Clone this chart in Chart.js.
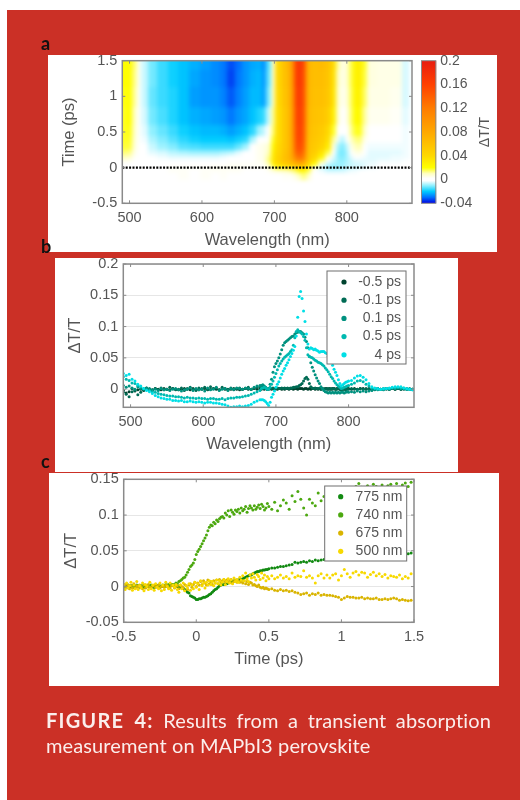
<!DOCTYPE html>
<html>
<head>
<meta charset="utf-8" />
<title>Figure 4</title>
<script src="https://cdn.jsdelivr.net/npm/chart.js"></script>
<style>
  html, body { margin: 0; padding: 0; background: #fff; }
  #page { position: absolute; left: 7px; top: 10px; width: 513px; height: 790px; background: #cb3026; }
  .panel { position: absolute; background: #fff; }
  canvas { position: absolute; filter: blur(0.45px); }
  .tag { position: absolute; font: bold 18px Lato, sans-serif; color: #111; z-index: 5; }
  .caption { position: absolute; left: 46px; width: 445px; font: 20px/25px Lato, sans-serif; color: #fbeeec; filter: blur(0.3px); font-variant-ligatures: none; letter-spacing: .12px; }
</style>
</head>
<body>
<div id="page"></div>
<div class="panel" style="left:48px;top:55px;width:449px;height:197px"></div>
<div class="panel" style="left:55px;top:258px;width:403px;height:214px"></div>
<div class="panel" style="left:49px;top:473px;width:450px;height:213px"></div>
<canvas id="heat" style="left:48px;top:55px"></canvas>
<canvas id="bar" style="left:421px;top:55px"></canvas>
<canvas id="spectra" style="left:55px;top:258px"></canvas>
<canvas id="kinetics" style="left:49px;top:473px"></canvas>
<div class="tag" style="left:41px;top:32px">a</div>
<div class="tag" style="left:41px;top:235px">b</div>
<div class="tag" style="left:41px;top:450px">c</div>
<div class="caption" style="top:708px;text-align:justify;text-align-last:justify"><b style="letter-spacing:1.2px">FIGURE 4:</b> Results from a transient absorption</div>
<div class="caption" style="top:733px">measurement on MAPbI3 perovskite</div>
<script>
// all dT/T values below are in units of 0.001

// panel a: heat map, one row per time
const heatWavelengths = [490,500,507,513,520,530,545,560,575,590,605,620,630,640,650,660,670,680,686,692,698,705,715,725,730,735,740,746,755,765,775,782,788,794,800,806,812,818,824,832,850,870,882,890];
const heatTimes = [-0.5,-0.25,-0.1,-0.05,0,0.05,0.1,0.15,0.2,0.3,0.4,0.5,0.7,1,1.25,1.5];
const heatRows = [
  [2,2,1,1,1,1,1,1,1,1,1,1,1,1,1,1,1,1,1,0,0,0,1,1,1,1,1,1,0,0,0,0,0,0,0,1,1,1,1,1,1,0,0,0],
  [2,1,1,1,1,1,1,1,2,1,2,1,2,1,2,1,1,1,1,1,1,1,1,1,2,2,2,1,0,0,-1,-1,-1,-1,0,0,0,0,0,0,1,1,0,0],
  [2,1,1,0,1,1,2,2,3,2,3,2,3,2,2,2,2,1,1,1,2,2,3,3,6,10,14,8,1,-1,-2,-2,-2,-2,-2,-1,-1,-1,-1,0,0,0,0,0],
  [1,1,1,1,1,2,2,3,3,2,3,3,3,3,3,2,2,2,2,3,5,7,9,12,16,22,24,16,2,-3,-5,-5,-5,-5,-4,-3,-3,-2,-2,-1,-1,-1,0,0],
  [1,1,1,1,1,1,2,3,3,3,3,4,4,4,4,3,3,3,3,6,14,22,30,36,42,46,42,28,8,-6,-10,-11,-10,-9,-7,-6,-5,-5,-4,-3,-2,-2,-1,-1],
  [2,2,1,0,1,1,1,1,2,2,2,2,2,3,3,3,3,3,4,10,26,40,52,62,72,76,70,46,20,4,-6,-8,-9,-9,-7,-6,-5,-5,-4,-3,-2,-2,-2,-1],
  [5,4,2,0,0,-1,-1,-1,0,0,-1,0,1,1,1,2,2,4,5,14,32,46,60,72,100,110,95,54,36,14,0,-6,-9,-10,-8,-6,-4,-4,-4,-4,-3,-3,-2,-2],
  [10,9,3,0,-1,-2,-3,-4,-4,-4,-4,-4,-3,-2,-1,1,2,4,5,12,30,44,60,78,120,130,115,56,42,24,6,-4,-10,-11,-8,-4,-1,0,-3,-4,-4,-3,-3,-2],
  [14,13,5,0,-1,-4,-5,-7,-8,-9,-9,-9,-8,-7,-4,-1,2,4,5,10,28,42,58,78,135,145,125,58,48,34,16,0,-10,-12,-8,-1,5,6,-1,-4,-4,-4,-3,-2],
  [17,17,7,0,-2,-6,-9,-11,-14,-15,-16,-16,-16,-16,-13,-9,0,4,5,8,22,40,56,78,145,155,134,60,52,44,30,6,-8,-11,-6,4,10,11,2,-3,-3,-3,-3,-2],
  [18,18,8,0,-3,-8,-11,-14,-17,-19,-20,-20,-20,-21,-19,-17,-8,-2,0,3,18,38,56,78,148,160,138,62,54,48,36,12,-3,-7,-2,8,13,14,5,-1,-2,-2,-3,-2],
  [18,19,9,0,-4,-10,-13,-16,-19,-21,-22,-22,-23,-25,-23,-21,-17,-9,-6,0,14,38,56,80,150,162,140,64,56,52,40,18,2,-2,2,12,18,19,9,1,-1,-1,-3,-2],
  [18,20,10,1,-5,-12,-15,-18,-21,-23,-24,-25,-26,-29,-26,-24,-21,-18,-16,-6,12,38,56,80,152,165,142,66,58,56,48,28,8,2,5,14,22,23,12,4,4,3,-4,-2],
  [19,20,12,2,-6,-13,-16,-18,-21,-25,-26,-26,-28,-32,-28,-25,-22,-22,-25,-11,9,40,58,82,156,168,145,68,60,60,54,34,9,4,7,15,25,27,15,5,5,4,-5,-2],
  [20,21,13,3,-6,-12,-16,-19,-21,-24,-26,-27,-29,-34,-29,-26,-23,-22,-26,-13,8,42,60,85,160,170,148,68,62,62,56,36,10,5,8,16,26,28,17,6,5,5,-5,-2],
  [20,22,14,3,-6,-12,-16,-19,-21,-23,-25,-27,-29,-33,-30,-26,-24,-23,-27,-14,8,42,62,88,160,172,150,70,62,64,58,38,12,5,8,16,26,29,18,6,5,5,-5,-2]
];
const zeroLineX = [490, 890];
const zeroLineY = [0, 0];
const wavelengthTicks = [500, 600, 700, 800];
const heatTimeTicks = [-0.5, 0, 0.5, 1, 1.5];

// colour bar
const barTicks = [-0.04, 0, 0.04, 0.08, 0.12, 0.16, 0.2];
const barLevels = [-0.04,-0.03,-0.02,-0.01,-0.002,0.002,0.01,0.02,0.04,0.08,0.12,0.16,0.2];
const barColors = ['#0000e0','#0070ff','#00ccff','#90f0ff','#ffffff','#ffffff','#ffffc0','#ffff00','#ffd800','#ffa800','#ff7c00','#ff4000','#e81c10'];

// panel b: spectra
const spectraWavelengths = [
  490,494,498,502,506,510,514,518,
  522,526,530,534,538,542,546,550,
  554,558,562,566,570,574,578,582,
  586,590,594,598,602,606,610,614,
  618,622,626,630,634,638,642,646,
  650,654,658,662,666,670,674,678,
  680,682,684,686,688,690,692,694,696,698,
  700,702,704,706,708,710,712,714,716,718,
  720,722,724,726,728,730,732,734,736,738,
  740,742,744,746,748,750,752,754,756,758,
  760,762,764,766,768,770,772,774,776,778,
  780,782,784,786,788,790,792,794,796,798,
  800,
  804,808,812,816,820,824,828,832,
  836,840,844,848,852,856,860,864,
  868,872,876,880,884,888
];
const spectrumM05 = [
  -2,-6,-4,1,-3,-1,0,-2,
  1,0,-1,1,0,-1,1,0,
  -1,1,0,-1,0,1,0,-1,
  1,0,-1,0,1,-1,0,1,
  0,-1,1,0,-1,0,1,0,
  -1,0,1,0,0,1,0,1,
  0,1,0,1,0,0,1,0,1,0,
  1,0,1,1,0,1,0,1,1,0,
  1,1,0,1,1,0,1,1,1,0,
  1,1,0,1,0,1,1,0,1,0,
  1,0,1,0,1,1,0,1,0,1,
  1,0,1,1,0,1,0,1,0,1,
  1,
  0,1,0,1,1,0,1,0,
  0,1,0,0,1,0,1,0,
  1,0,1,0,0,0
];
const spectrumM01 = [
  -5,-8,-12,-4,-2,-9,-5,-1,
  2,0,-2,1,-1,2,-1,0,
  3,1,-1,0,2,-2,1,3,
  0,-2,2,1,3,0,4,1,
  2,-1,3,1,0,2,-1,1,
  2,0,1,3,0,2,3,4,
  5,4,2,1,0,1,2,1,2,1,
  1,2,1,1,2,1,2,1,2,1,
  2,2,3,3,4,4,6,7,9,13,
  17,19,16,9,4,2,1,2,1,1,
  1,0,1,0,1,0,1,0,1,0,
  1,0,0,1,0,-1,0,0,-1,0,
  0,
  1,0,0,1,0,1,0,-1,
  0,1,0,1,0,0,1,0,
  1,0,0,1,0,0
];
const spectrumP01 = [
  6,3,5,2,0,4,1,0,
  2,1,-1,0,-2,1,-1,0,
  -2,0,1,-1,-3,-1,0,2,
  -2,1,-1,0,-3,2,-1,0,
  3,-2,0,1,-2,1,0,2,
  1,0,2,1,0,3,5,6,
  6,7,5,3,0,1,8,16,27,36,
  41,45,50,56,63,70,74,76,78,80,
  82,84,85,88,90,91,92,92,90,88,
  83,76,66,52,42,35,29,23,18,13,
  9,4,1,-2,-4,-5,-6,-5,-6,-5,
  -6,-5,-6,-5,-6,-5,-5,-6,-5,-4,
  -5,
  -4,-5,-3,-4,-3,-4,-3,-2,
  -1,-1,0,-1,1,0,2,1,
  2,1,1,0,1,0
];
const spectrumP05 = [
  20,16,14,10,9,6,4,1,
  -1,-2,-4,-5,-7,-8,-9,-10,
  -11,-11,-12,-12,-13,-14,-13,-14,
  -14,-15,-14,-15,-15,-16,-15,-15,
  -16,-16,-15,-17,-15,-14,-14,-13,
  -13,-12,-11,-10,-8,-6,-4,-2,
  1,2,3,2,0,0,3,8,13,19,
  25,31,37,41,45,48,51,53,55,57,
  60,63,70,82,92,95,92,90,88,84,
  78,66,55,52,51,50,48,46,45,43,
  42,41,39,37,34,31,28,24,20,17,
  13,10,7,5,3,1,2,3,4,5,
  6,
  8,10,13,14,12,8,5,2,
  1,0,0,0,1,1,2,2,
  3,2,2,0,0,-1
];
const spectrumP4 = [
  25,22,24,16,13,8,5,1,
  -2,-4,-7,-10,-12,-14,-15,-16,
  -16,-18,-18,-19,-18,-20,-20,-19,
  -20,-21,-20,-21,-22,-21,-21,-22,
  -22,-23,-24,-25,-27,-29,-28,-28,
  -27,-28,-27,-26,-24,-21,-19,-17,
  -17,-17,-18,-20,-23,-26,-21,-13,-8,-3,
  3,8,12,18,24,29,33,38,42,47,
  52,57,62,68,85,115,148,156,145,125,
  108,88,72,64,66,65,63,64,62,61,
  59,60,60,60,58,57,52,48,44,38,
  32,27,22,15,9,5,7,9,11,12,
  13,
  14,18,21,22,19,15,9,4,
  2,1,0,1,1,2,3,4,
  4,4,2,1,0,-1
];
const spectraLabels = ['-0.5 ps', '-0.1 ps', '0.1 ps', '0.5 ps', '4 ps'];
const spectraColors = ['#00432f', '#006b54', '#00917f', '#00b9b0', '#00dfe6'];
const spectraYTicks = [0, 0.05, 0.1, 0.15, 0.2];

// panel c: kinetics
const kineticsTimes = [
  -0.5,-0.49,-0.48,-0.47,-0.46,-0.45,-0.44,-0.43,-0.42,-0.41,-0.4,-0.39,
  -0.38,-0.37,-0.36,-0.35,-0.34,-0.33,-0.32,-0.31,-0.3,-0.29,-0.28,-0.27,
  -0.26,-0.25,-0.24,-0.23,-0.22,-0.21,-0.2,-0.19,-0.18,-0.17,-0.16,
  -0.15,-0.14,-0.13,-0.12,-0.11,-0.1,-0.09,-0.08,-0.07,-0.06,-0.05,
  -0.04,-0.03,-0.02,-0.01,0,0.01,0.02,0.03,0.04,0.05,0.06,
  0.07,0.08,0.09,0.1,0.11,0.12,0.13,0.14,0.15,0.16,0.17,
  0.18,0.19,0.2,0.21,0.22,0.23,0.24,0.25,0.26,0.27,0.28,
  0.29,0.3,0.31,0.32,0.33,0.34,0.35,0.36,0.37,0.38,0.39,
  0.4,0.41,0.42,0.43,0.44,0.45,0.46,0.47,0.48,0.49,0.5,
  0.52,0.54,0.56,0.58,0.6,0.62,0.64,0.66,0.68,0.7,
  0.72,0.74,0.76,0.78,0.8,0.82,0.84,0.86,0.88,0.9,
  0.92,0.94,0.96,0.98,1,1.02,1.04,1.06,1.08,1.1,
  1.12,1.14,1.16,1.18,1.2,1.22,1.24,1.26,1.28,1.3,
  1.32,1.34,1.36,1.38,1.4,1.42,1.44,1.46,1.48
];
const kinetics775 = [
  1,0,1,-1,1,0,1,-1,0,1,0,-1,
  1,0,-1,1,0,1,1,0,0,-1,1,0,
  1,0,0,1,1,0,1,1,1,2,2,
  1,1,0,0,-1,-1,-2,-4,-6,-8,-9,
  -13,-14,-15,-16,-18,-18,-17,-17,-16,-15,-15,
  -14,-13,-11,-10,-8,-6,-4,-3,-1,1,2,
  3,3,4,4,5,6,6,7,8,8,9,
  9,10,10,11,12,13,14,15,16,16,18,
  19,20,21,21,22,22,23,23,24,24,25,
  26,26,27,28,28,29,30,31,34,33,
  34,35,34,36,35,37,36,37,38,38,
  39,39,40,41,41,42,42,43,43,44,
  44,44,45,45,45,46,45,46,46,46,
  46,46,47,46,47,47,48,46,47
];
const kinetics740 = [
  1,-1,0,2,0,1,1,-1,0,2,1,0,
  0,1,2,-1,1,0,0,2,1,-1,0,1,
  2,1,0,2,1,3,2,3,1,3,3,
  3,5,4,7,8,10,12,13,16,20,24,
  28,30,33,38,45,49,52,56,60,64,68,
  72,78,83,86,85,90,88,93,91,95,97,
  98,96,103,100,106,98,107,104,101,107,105,
  108,103,110,106,108,112,104,109,113,110,107,
  113,108,111,114,109,115,112,107,110,116,112,
  108,118,106,113,121,117,108,127,119,133,
  122,110,100,122,117,113,131,120,126,128,
  130,128,135,131,134,138,133,136,137,140,
  144,139,136,141,137,143,140,138,142,136,
  141,143,137,144,139,142,145,140,146
];
const kinetics675 = [
  0,3,-1,2,-3,1,-2,4,-2,1,-1,2,
  0,-3,2,-2,1,3,-1,-2,1,2,-1,0,
  2,-2,0,1,-1,2,1,-2,-2,1,1,
  -2,0,1,-3,2,0,-2,3,1,-4,2,
  4,-1,3,6,0,5,2,7,3,8,5,
  2,9,4,7,3,8,5,9,4,10,6,
  8,10,7,9,6,8,10,5,7,9,6,
  8,6,7,5,8,4,7,3,6,5,2,
  3,1,0,2,-1,-2,-1,-3,-2,-3,-4,
  -3,-5,-6,-4,-6,-5,-7,-6,-8,-9,
  -11,-10,-9,-12,-10,-11,-9,-12,-11,-12,
  -12,-13,-14,-15,-18,-16,-14,-15,-15,-16,
  -16,-15,-17,-16,-17,-17,-16,-18,-18,-17,
  -18,-17,-16,-17,-19,-18,-19,-20,-19
];
const kinetics500 = [
  3,-4,5,-2,1,6,-5,2,-3,7,-4,1,
  -2,5,-6,3,0,-4,6,-3,2,-5,4,-1,
  -3,5,-6,2,-4,6,0,-3,5,-5,2,
  -1,3,-4,-8,2,-3,5,-6,1,-2,4,
  -5,2,-3,6,-1,4,-4,8,1,5,-2,
  6,2,8,3,7,1,5,9,4,8,2,
  6,10,3,7,11,5,9,4,12,7,10,
  6,13,9,15,8,19,11,7,16,12,18,
  13,9,17,14,10,19,12,16,8,14,11,
  15,11,13,16,12,14,11,19,13,15,
  14,22,13,15,12,5,15,18,12,16,
  12,16,18,9,15,24,18,13,19,21,
  16,20,19,13,17,20,15,18,14,17,
  12,15,14,13,16,11,14,12,18
];
const kineticsLabels = ['775 nm', '740 nm', '675 nm', '500 nm'];
const kineticsColors = ['#128a12', '#4ca810', '#d9b400', '#f7d900'];
const kineticsXTicks = [-0.5, 0, 0.5, 1, 1.5];
const kineticsYTicks = [-0.05, 0, 0.05, 0.1, 0.15];

Chart.defaults.font.family = '"Liberation Sans", Arial, sans-serif';
Chart.defaults.color = '#555';
Chart.defaults.animation = false;

const axisColor = '#8a8a8a';
const toPoints = (xs, ys) => xs.map((x, i) => ({ x, y: ys[i] / 1000 }));

function hexRgb(h) {
  return [1, 3, 5].map(i => parseInt(h.slice(i, i + 2), 16));
}

function heatColor(v) {
  if (v <= barLevels[0]) return barColors[0];
  for (let i = 1; i < barLevels.length; i++) {
    if (v <= barLevels[i]) {
      const f = (v - barLevels[i - 1]) / (barLevels[i] - barLevels[i - 1]);
      const a = hexRgb(barColors[i - 1]), b = hexRgb(barColors[i]);
      return 'rgb(' + a.map((c, k) => Math.round(c + (b[k] - c) * f)).join(',') + ')';
    }
  }
  return barColors[barColors.length - 1];
}

// cell edges sit halfway between neighbouring samples
function edges(vals) {
  const out = [vals[0]];
  for (let i = 1; i < vals.length; i++) out.push((vals[i - 1] + vals[i]) / 2);
  out.push(vals[vals.length - 1]);
  return out;
}

const heatPlugin = {
  id: 'heatCells',
  beforeDatasetsDraw(chart) {
    const { ctx, chartArea: a, scales: { x, y } } = chart;
    const off = document.createElement('canvas');
    off.width = chart.width;
    off.height = chart.height;
    const o = off.getContext('2d');
    const xe = edges(heatWavelengths).map(v => Math.round(x.getPixelForValue(v)));
    const ye = edges(heatTimes).map(v => Math.round(y.getPixelForValue(v)));
    xe[0] -= 8; xe[xe.length - 1] += 8;
    ye[0] += 8; ye[ye.length - 1] -= 8;
    heatRows.forEach((row, r) => {
      row.forEach((v, c) => {
        o.fillStyle = heatColor(v / 1000);
        o.fillRect(xe[c], ye[r + 1], xe[c + 1] - xe[c], ye[r] - ye[r + 1]);
      });
    });
    ctx.save();
    ctx.beginPath();
    ctx.rect(a.left, a.top, a.width, a.height);
    ctx.clip();
    ctx.filter = 'blur(2px)';
    ctx.drawImage(off, 0, 0);
    ctx.restore();
  }
};

// grey box with short inward ticks on all four sides
const boxPlugin = {
  id: 'matlabBox',
  afterDatasetsDraw(chart) {
    const { ctx, chartArea: a, scales } = chart;
    ctx.save();
    ctx.strokeStyle = axisColor;
    ctx.lineWidth = 1.5;
    ctx.strokeRect(a.left, a.top, a.width, a.height);
    ctx.lineWidth = 1;
    ctx.beginPath();
    scales.x.ticks.forEach(t => {
      const px = scales.x.getPixelForValue(t.value);
      ctx.moveTo(px, a.bottom); ctx.lineTo(px, a.bottom - 3);
      ctx.moveTo(px, a.top); ctx.lineTo(px, a.top + 3);
    });
    scales.y.ticks.forEach(t => {
      const py = scales.y.getPixelForValue(t.value);
      ctx.moveTo(a.left, py); ctx.lineTo(a.left + 3, py);
      ctx.moveTo(a.right, py); ctx.lineTo(a.right - 3, py);
    });
    ctx.stroke();
    ctx.restore();
  }
};

// legend box inside the axes, labels right aligned like the original
const legendPlugin = {
  id: 'boxLegend',
  afterDatasetsDraw(chart, args, opts) {
    const { ctx } = chart;
    const sets = chart.data.datasets.filter(d => d.label);
    ctx.save();
    ctx.fillStyle = '#fff';
    ctx.strokeStyle = '#6f6f6f';
    ctx.lineWidth = 1;
    ctx.fillRect(opts.x, opts.y, opts.w, opts.h);
    ctx.strokeRect(opts.x, opts.y, opts.w, opts.h);
    ctx.font = '14px "Liberation Sans"';
    ctx.textAlign = 'right';
    ctx.textBaseline = 'middle';
    sets.forEach((d, i) => {
      const py = opts.rowTop + i * opts.rowStep;
      ctx.fillStyle = d.backgroundColor;
      ctx.beginPath();
      ctx.arc(opts.dotX, py, 2.6, 0, Math.PI * 2);
      ctx.fill();
      ctx.fillStyle = '#555';
      ctx.fillText(d.label, opts.textX, py);
    });
    ctx.restore();
  }
};

function noLabelPadding(s) {
  s.paddingTop = 0;
  s.paddingBottom = 0;
  s.paddingLeft = 0;
  s.paddingRight = 0;
}

function plotOptions(o) {
  return {
    responsive: false,
    events: [],
    layout: { padding: { top: o.top, right: o.right, left: 0, bottom: 0 } },
    plugins: { legend: { display: false }, tooltip: { enabled: false }, boxLegend: o.legend || false },
    scales: {
      x: {
        type: 'linear', min: o.xMin, max: o.xMax,
        grid: { display: false, drawTicks: false },
        border: { display: false },
        afterBuildTicks: s => { s.ticks = o.xTicks.map(value => ({ value })); },
        afterFit: s => { s.height = o.bottom; noLabelPadding(s); },
        ticks: { autoSkip: false, maxRotation: 0, padding: 6, font: { size: 14.5 }, callback: v => String(v) },
        title: { display: true, text: o.xTitle, font: { size: 16.5 }, padding: { top: 0, bottom: o.xTitlePad } }
      },
      y: {
        min: o.yMin, max: o.yMax,
        grid: { display: o.grid, color: '#e6e6e6', lineWidth: 1, drawTicks: false },
        border: { display: false },
        afterBuildTicks: s => { s.ticks = o.yTicks.map(value => ({ value })); },
        afterFit: s => { s.width = o.left; noLabelPadding(s); },
        ticks: { autoSkip: false, padding: 5, font: { size: 14.5 }, callback: v => String(v) },
        title: { display: true, text: o.yTitle, font: { size: 16.5 }, padding: { top: o.yTitlePad, bottom: 0 } }
      }
    }
  };
}

function sizeCanvas(id, w, h) {
  const c = document.getElementById(id);
  c.width = w;
  c.height = h;
  return c;
}

new Chart(sizeCanvas('heat', 449, 197), {
  type: 'scatter',
  data: {
    datasets: [{
      data: toPoints(zeroLineX, zeroLineY),
      showLine: true, pointRadius: 0,
      borderColor: '#000', borderWidth: 2.2, borderDash: [2, 1.4]
    }]
  },
  options: plotOptions({
    xMin: 490, xMax: 890, yMin: -0.5, yMax: 1.5,
    xTicks: wavelengthTicks, yTicks: heatTimeTicks,
    xTitle: 'Wavelength (nm)', yTitle: 'Time (ps)',
    left: 74.3, top: 5.7, right: 85, bottom: 48.7,
    xTitlePad: 2, yTitlePad: 12, grid: false
  }),
  plugins: [heatPlugin, boxPlugin]
});

new Chart(sizeCanvas('bar', 76, 197), {
  type: 'bar',
  data: {
    labels: ['dT/T'],
    datasets: [{
      data: [[barLevels[0], barLevels[barLevels.length - 1]]],
      barPercentage: 1, categoryPercentage: 1,
      backgroundColor(c) {
        const { chart } = c;
        if (!chart.chartArea) return barColors[0];
        const a = chart.chartArea;
        const g = chart.ctx.createLinearGradient(0, a.bottom, 0, a.top);
        barLevels.forEach((v, i) => {
          g.addColorStop((v - barLevels[0]) / (barLevels[barLevels.length - 1] - barLevels[0]), barColors[i]);
        });
        return g;
      }
    }]
  },
  options: {
    responsive: false,
    events: [],
    layout: { padding: { top: 5.7, bottom: 48.7, left: 0, right: 0 } },
    plugins: { legend: { display: false }, tooltip: { enabled: false } },
    scales: {
      x: { display: false },
      y: {
        position: 'right', min: -0.04, max: 0.2,
        grid: { display: false, drawTicks: false },
        border: { display: false },
        afterBuildTicks: s => { s.ticks = barTicks.map(value => ({ value })); },
        afterFit: s => { s.width = 60.7; noLabelPadding(s); },
        ticks: { autoSkip: false, padding: 4, font: { size: 14 }, callback: v => String(v) }
      }
    }
  },
  plugins: [{
    id: 'barFrame',
    afterDatasetsDraw(chart) {
      const { ctx, chartArea: a } = chart;
      ctx.save();
      ctx.strokeStyle = axisColor;
      ctx.lineWidth = 1;
      ctx.strokeRect(a.left + 0.5, a.top, a.width - 1, a.height);
      // the right hand axis title reads upward in the original, chart.js turns it the other way
      ctx.translate(64, 77);
      ctx.rotate(-Math.PI / 2);
      ctx.fillStyle = '#555';
      ctx.font = '14px "Liberation Sans"';
      ctx.textAlign = 'center';
      ctx.textBaseline = 'middle';
      ctx.fillText('ΔT/T', 0, 0);
      ctx.restore();
    }
  }]
});

const spectra = [spectrumM05, spectrumM01, spectrumP01, spectrumP05, spectrumP4];
new Chart(sizeCanvas('spectra', 403, 214), {
  type: 'scatter',
  data: {
    datasets: spectra.map((vals, i) => ({
      label: spectraLabels[i],
      data: toPoints(spectraWavelengths, vals),
      backgroundColor: spectraColors[i], borderWidth: 0,
      pointRadius: 1.5, order: spectra.length - i
    }))
  },
  options: plotOptions({
    xMin: 490, xMax: 890, yMin: -0.029, yMax: 0.2,
    xTicks: wavelengthTicks, yTicks: spectraYTicks,
    xTitle: 'Wavelength (nm)', yTitle: 'ΔT/T',
    left: 68.3, top: 6, right: 44, bottom: 64.7,
    xTitlePad: 18, yTitlePad: 11, grid: true,
    legend: { x: 272, y: 13, w: 79, h: 93, dotX: 289, textX: 346, rowTop: 24, rowStep: 18.2 }
  }),
  plugins: [boxPlugin, legendPlugin]
});

const kinetics = [kinetics775, kinetics740, kinetics675, kinetics500];
new Chart(sizeCanvas('kinetics', 450, 213), {
  type: 'scatter',
  data: {
    datasets: kinetics.map((vals, i) => ({
      label: kineticsLabels[i],
      data: toPoints(kineticsTimes, vals),
      backgroundColor: kineticsColors[i], borderWidth: 0,
      pointRadius: 1.5, order: kinetics.length - i
    }))
  },
  options: plotOptions({
    xMin: -0.5, xMax: 1.5, yMin: -0.05, yMax: 0.15,
    xTicks: kineticsXTicks, yTicks: kineticsYTicks,
    xTitle: 'Time (ps)', yTitle: 'ΔT/T',
    left: 74.7, top: 6.3, right: 85, bottom: 63.7,
    xTitlePad: 17, yTitlePad: 13, grid: true,
    legend: { x: 275.7, y: 13, w: 82, h: 75, dotX: 291.7, textX: 353.3, rowTop: 23.7, rowStep: 18.2 }
  }),
  plugins: [boxPlugin, legendPlugin]
});
</script>
</body>
</html>
